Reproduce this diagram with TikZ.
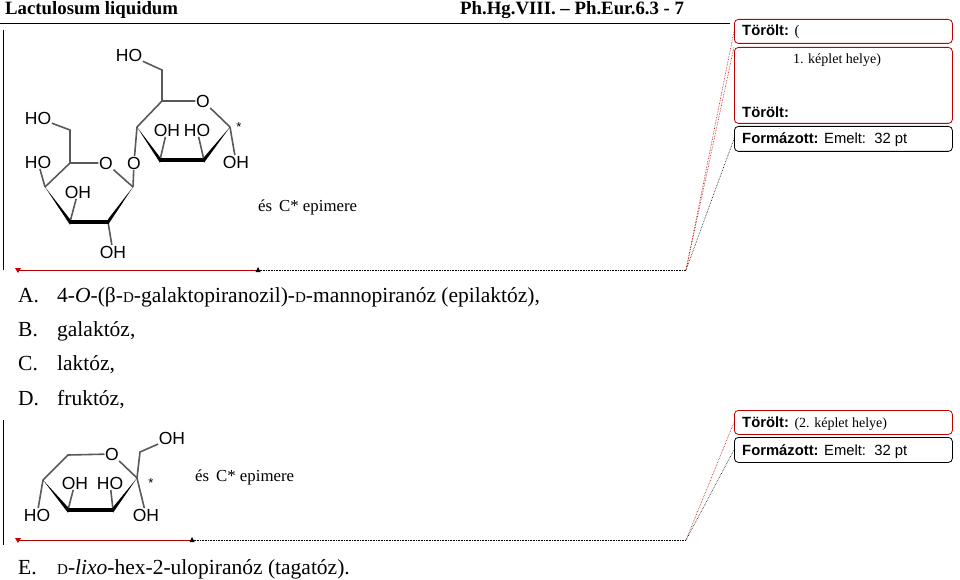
\documentclass[tikz,border=0pt]{standalone}
\usepackage{fontspec}
\setmainfont{Liberation Serif}
\setsansfont{Liberation Sans}
\usetikzlibrary{calc}
\tikzset{
 atom/.style={font=\sffamily\fontsize{17.5}{17.5}\selectfont,inner sep=0.5pt},
 bond/.style={line width=1.6pt,gray!70!black},
 bold/.style={line width=4.5pt,black},
 cmt/.style={draw,rounded corners=4pt,line width=0.8pt,minimum width=218pt,anchor=north west,align=left,inner sep=0pt},
 redc/.style={cmt,draw=red!75!black},
 blkc/.style={cmt,draw=black},
 tx/.style={font=\fontsize{21.5}{21.5}\selectfont,anchor=base west,inner sep=0pt},
 ctx/.style={font=\sffamily\fontsize{14.8}{14.8}\selectfont,anchor=base west,inner sep=0pt},
 rdot/.style={red!70!black,densely dotted,line width=0.6pt},
 kdot/.style={black,densely dotted,line width=0.6pt},
}
\newcommand{\sd}{{\fontsize{15}{15}\selectfont D}}
\newcommand{\mywedge}[3]{\fill #1 -- ($#2+(0,#3)$) -- ($#2-(0,#3)$) -- cycle;}
\begin{document}
\begin{tikzpicture}[x=1pt,y=-1pt]
\useasboundingbox (0,0) rectangle (960,580);
% header
\node[font=\bfseries\fontsize{18.8}{18.8}\selectfont,anchor=base west,inner sep=0pt] (h1) at (5,15) {Lactulosum liquidum};
\node[font=\bfseries\fontsize{18.8}{18.8}\selectfont,anchor=base west,inner sep=0pt] (h2) at (460,15) {Ph.Hg.VIII. -- Ph.Eur.6.3 - 7};
\draw[line width=0.8pt] (0,23) -- (730,23);
\draw[line width=1pt] (3,30) -- (3,270);
\draw[line width=1pt] (3,420) -- (3,545);
% ---------- disaccharide ----------
\coordinate (a5) at (70,163); \node[atom] (ao) at (106,163) {O};
\coordinate (a1) at (133,187); \coordinate (a2) at (108,222);
\coordinate (a3) at (70,222); \coordinate (a4) at (45,187);
\coordinate (a6) at (70,130);
\node[atom] (aho6) at (38,118) {HO};
\node[atom] (aho4) at (38,162) {HO};
\node[atom] (aoh3) at (78,192) {OH};
\node[atom] (aoh2) at (113,252) {OH};
\node[atom] (gly) at (134,163) {O};
\draw[bond] (a4)--(a5)--(ao)--(a1); \draw[bond] (a5)--(a6)--(aho6);
\draw[bond] (a4)--(aho4); \draw[bond] (a3)--(aoh3); \draw[bond] (a2)--(aoh2); \draw[bond] (a1)--(gly);
\mywedge{(a4)}{(a3)}{2.8} \draw[bold] (a3)--(a2); \mywedge{(a1)}{(a2)}{2.8}
\coordinate (b5) at (162,101); \node[atom] (bo) at (203,101) {O};
\coordinate (b1) at (230,127); \coordinate (b2) at (204,160);
\coordinate (b3) at (160,160); \coordinate (b4) at (137,127);
\coordinate (b6) at (162,70);
\node[atom] (bho6) at (129,55) {HO};
\node[atom] (boh3) at (167,130) {OH};
\node[atom] (bho2) at (197,130) {HO};
\node[atom] (boh1) at (236,162) {OH};
\node[atom,font=\sffamily\fontsize{13}{13}\selectfont] (bst) at (239,127) {*};
\draw[bond] (b4)--(b5)--(bo)--(b1); \draw[bond] (b5)--(b6)--(bho6);
\draw[bond] (b4)--(gly); \draw[bond] (b3)--(boh3); \draw[bond] (b2)--(bho2); \draw[bond] (b1)--(boh1);
\mywedge{(b4)}{(b3)}{2.8} \draw[bold] (b3)--(b2); \mywedge{(b1)}{(b2)}{2.8}
\node[font=\fontsize{16.8}{16.8}\selectfont,anchor=base west,inner sep=0pt] (ep1) at (258,211) {és\, C* epimere};
% ---------- fructose ----------
\coordinate (f1) at (68,455); \node[atom] (fo) at (112,454) {O};
\coordinate (f2) at (137,478); \coordinate (f3) at (113,510);
\coordinate (f4) at (68,510); \coordinate (f5) at (43,480);
\coordinate (f6) at (140,452);
\node[atom] (foh6) at (172,438) {OH};
\node[atom] (foh2) at (146,515) {OH};
\node[atom] (fho5) at (37,515) {HO};
\node[atom] (foh4) at (75,483) {OH};
\node[atom] (fho3) at (110,483) {HO};
\node[atom,font=\sffamily\fontsize{13}{13}\selectfont] (fst) at (151,483) {*};
\draw[bond] (f5)--(f1)--(fo)--(f2); \draw[bond] (f2)--(f6)--(foh6);
\draw[bond] (f2)--(foh2); \draw[bond] (f5)--(fho5); \draw[bond] (f4)--(foh4); \draw[bond] (f3)--(fho3);
\mywedge{(f5)}{(f4)}{2.8} \draw[bold] (f4)--(f3); \mywedge{(f2)}{(f3)}{2.8}
\node[font=\fontsize{16.8}{16.8}\selectfont,anchor=base west,inner sep=0pt] (ep2) at (195,481) {és\, C* epimere};
% ---------- text ----------
\node[tx] (la) at (18,302) {A.};
\node[tx] (ta) at (57,302) {4-\textit{O}-(β-\sd-galaktopiranozil)-\sd-mannopiranóz (epilaktóz),};
\node[tx] (lb) at (18,336) {B.}; \node[tx] (tb) at (57,336) {galaktóz,};
\node[tx] (lc) at (18,370) {C.}; \node[tx] (tc) at (57,370) {laktóz,};
\node[tx] (ld) at (18,405) {D.}; \node[tx] (td) at (57,405) {fruktóz,};
\node[tx] (le) at (18,574) {E.}; \node[tx] (te) at (57,574) {\sd-\textit{lixo}-hex-2-ulopiranóz (tagatóz).};
% ---------- comment boxes ----------
\node[redc,minimum height=24pt] (c1) at (734,19) {};
\node[ctx] at (742,36) {\textbf{Törölt:} {\rmfamily (}};
\node[redc,minimum height=76pt] (c2) at (734,47) {};
\node[font=\fontsize{14}{14}\selectfont,anchor=base,inner sep=0pt] at (837,64) {1. képlet helye)};
\node[ctx] at (742,118) {\textbf{Törölt:}};
\node[blkc,minimum height=25pt] (c3) at (734,126) {};
\node[ctx] at (742,144) {\textbf{Formázott:} Emelt:\ \ 32 pt};
\node[redc,minimum height=24pt] (c4) at (734,410) {};
\node[ctx] at (742,427) {\textbf{Törölt:} {\rmfamily\fontsize{14}{14}\selectfont (2. képlet helye)}};
\node[blkc,minimum height=25pt] (c5) at (734,437) {};
\node[ctx] at (742,455) {\textbf{Formázott:} Emelt:\ \ 32 pt};
% ---------- change-track connectors ----------
\coordinate (m1a) at (18,270); \coordinate (m1b) at (258,270); \coordinate (k1) at (686,270);
\draw[red!70!black,line width=0.8pt] (m1a) -- (m1b);
\draw[kdot] (m1b) -- (k1);
\fill[red!80!black] (m1a) ++(-3,-2) -- ++(6,0) -- ++(-3,5) -- cycle;
\fill[black] (m1b) ++(-2.5,2) -- ++(5,0) -- ++(-2.5,-5) -- cycle;
\draw[rdot] (k1) -- (c1.west);
\draw[rdot] (k1) -- (c2.north west);
\draw[kdot] (k1) -- (c3.west);
\coordinate (m2a) at (18,540); \coordinate (m2b) at (192,540); \coordinate (k2) at (686,540);
\draw[red!70!black,line width=0.8pt] (m2a) -- (m2b);
\draw[kdot] (m2b) -- (k2);
\fill[red!80!black] (m2a) ++(-3,-2) -- ++(6,0) -- ++(-3,5) -- cycle;
\fill[black] (m2b) ++(-2.5,2) -- ++(5,0) -- ++(-2.5,-5) -- cycle;
\draw[rdot] (k2) -- (c4.west);
\draw[kdot] (k2) -- (c5.west);
\end{tikzpicture}
\end{document}
